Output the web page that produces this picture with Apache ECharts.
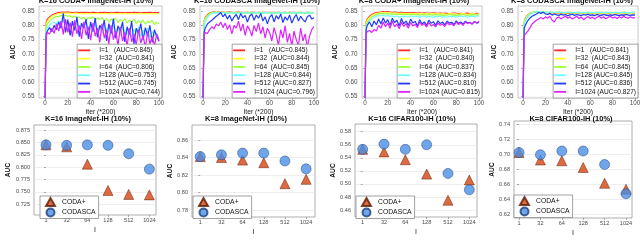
<!DOCTYPE html>
<html><head><meta charset="utf-8">
<script src="https://cdn.jsdelivr.net/npm/echarts@6/dist/echarts.min.js"></script>
<style>html,body{margin:0;padding:0;background:#fff}#c{width:640px;height:241px}</style>
</head><body><div id="c"></div>
<script>
// ---------------- DATA ----------------
const iters = [0,1,2,4,6,8,10,12,14,16,18,20,22,24,26,28,30,32,34,36,38,40,42,44,46,48,50,52,54,56,58,60,62,64,66,68,70,72,74,76,78,80,82,84,86,88,90,92,94,96,98,100];
const iterTicks = [0,20,40,60,80,100];
const intervalLabels = ['1','32','64','128','512','1024'];

// K=16 CODA+ ImageNet-IH
const k16coda_1 = [0.545,0.812,
 0.822,0.830,0.836,0.840,0.843,0.845,0.846,0.847,0.846,0.847,
 0.846,0.845,0.846,0.846,0.845,0.846,0.845,0.846,0.845,0.845,
 0.846,0.845,0.844,0.845,0.845,0.846,0.845,0.845,0.844,0.845,
 0.845,0.846,0.845,0.845,0.844,0.845,0.845,0.845,0.846,0.845,
 0.845,0.844,0.845,0.845,0.845,0.846,0.845,0.845,0.845,0.845];
const k16coda_32 = [0.545,0.805,
 0.815,0.825,0.832,0.836,0.839,0.841,0.842,0.843,0.842,0.843,
 0.842,0.841,0.843,0.842,0.841,0.842,0.840,0.842,0.841,0.842,
 0.841,0.840,0.842,0.841,0.840,0.842,0.841,0.840,0.841,0.842,
 0.840,0.841,0.842,0.840,0.841,0.841,0.840,0.842,0.841,0.840,
 0.841,0.842,0.840,0.841,0.841,0.840,0.842,0.841,0.840,0.841];
const k16coda_64 = [0.545,0.795,
 0.805,0.815,0.822,0.828,0.832,0.830,0.835,0.833,0.836,0.831,
 0.834,0.828,0.833,0.826,0.830,0.822,0.829,0.818,0.827,0.824,
 0.830,0.819,0.826,0.821,0.828,0.815,0.824,0.812,0.822,0.818,
 0.825,0.810,0.820,0.815,0.823,0.808,0.818,0.812,0.821,0.806,
 0.816,0.809,0.819,0.804,0.814,0.810,0.817,0.803,0.811,0.806];
const k16coda_128 = [0.545,0.780,
 0.790,0.800,0.808,0.812,0.805,0.815,0.808,0.818,0.802,0.812,
 0.796,0.810,0.790,0.806,0.785,0.803,0.792,0.808,0.780,0.800,
 0.788,0.806,0.778,0.798,0.770,0.802,0.784,0.795,0.766,0.800,
 0.775,0.792,0.762,0.797,0.780,0.768,0.790,0.758,0.786,0.772,
 0.795,0.760,0.783,0.766,0.790,0.756,0.778,0.764,0.772,0.753];
const k16coda_512 = [0.545,0.770,
 0.780,0.792,0.778,0.800,0.785,0.812,0.790,0.842,0.775,0.820,
 0.765,0.815,0.782,0.830,0.760,0.808,0.790,0.822,0.752,0.812,
 0.778,0.826,0.758,0.800,0.785,0.818,0.745,0.806,0.772,0.824,
 0.755,0.798,0.780,0.812,0.742,0.795,0.768,0.815,0.735,0.790,
 0.770,0.806,0.748,0.792,0.762,0.800,0.740,0.785,0.760,0.745];
const k16coda_1024 = [0.545,0.760,
 0.775,0.770,0.790,0.772,0.805,0.780,0.815,0.768,0.822,0.775,
 0.810,0.760,0.818,0.770,0.800,0.752,0.812,0.765,0.795,0.748,
 0.808,0.762,0.790,0.740,0.805,0.755,0.785,0.735,0.800,0.750,
 0.780,0.728,0.795,0.745,0.775,0.725,0.790,0.742,0.770,0.730,
 0.785,0.738,0.765,0.722,0.778,0.735,0.760,0.728,0.770,0.744];
const aucK16Coda = [0.845,0.841,0.806,0.753,0.745,0.744];

// K=16 CODASCA ImageNet-IH
const k16sca_1 = [0.545,0.815,
 0.828,0.838,0.843,0.846,0.847,0.846,0.847,0.846,0.847,0.846,
 0.846,0.847,0.846,0.845,0.846,0.847,0.846,0.845,0.846,0.846,
 0.845,0.846,0.846,0.845,0.846,0.845,0.846,0.846,0.845,0.846,
 0.845,0.846,0.845,0.846,0.845,0.845,0.846,0.845,0.846,0.845,
 0.846,0.845,0.845,0.846,0.845,0.845,0.846,0.845,0.845,0.845];
const k16sca_32 = [0.545,0.812,
 0.825,0.835,0.841,0.844,0.845,0.846,0.845,0.846,0.845,0.846,
 0.845,0.844,0.845,0.846,0.844,0.845,0.845,0.844,0.845,0.846,
 0.844,0.845,0.844,0.845,0.845,0.844,0.845,0.844,0.845,0.845,
 0.844,0.845,0.844,0.845,0.844,0.845,0.845,0.844,0.845,0.844,
 0.845,0.844,0.845,0.844,0.845,0.845,0.844,0.845,0.844,0.844];
const k16sca_64 = [0.545,0.808,
 0.822,0.833,0.840,0.844,0.846,0.845,0.847,0.844,0.846,0.845,
 0.843,0.846,0.844,0.845,0.843,0.846,0.844,0.845,0.843,0.845,
 0.846,0.844,0.845,0.843,0.846,0.844,0.845,0.843,0.846,0.844,
 0.845,0.843,0.845,0.846,0.844,0.845,0.843,0.845,0.846,0.844,
 0.845,0.843,0.846,0.844,0.845,0.843,0.845,0.846,0.844,0.845];
const k16sca_128 = [0.545,0.800,
 0.815,0.828,0.836,0.841,0.844,0.843,0.845,0.842,0.845,0.843,
 0.844,0.842,0.845,0.843,0.844,0.841,0.844,0.843,0.845,0.842,
 0.844,0.843,0.842,0.845,0.843,0.844,0.842,0.845,0.843,0.844,
 0.842,0.844,0.843,0.845,0.842,0.844,0.843,0.844,0.842,0.845,
 0.843,0.844,0.842,0.844,0.843,0.845,0.842,0.844,0.843,0.844];
const k16sca_512 = [0.545,0.775,
 0.790,0.805,0.812,0.818,0.825,0.832,0.838,0.845,0.830,0.840,
 0.822,0.836,0.815,0.830,0.838,0.820,0.842,0.826,0.835,0.812,
 0.832,0.840,0.818,0.836,0.825,0.842,0.815,0.830,0.805,0.828,
 0.838,0.812,0.834,0.822,0.840,0.810,0.830,0.818,0.836,0.808,
 0.826,0.838,0.815,0.832,0.820,0.812,0.830,0.836,0.822,0.827];
const k16sca_1024 = [0.545,0.765,
 0.775,0.772,0.785,0.795,0.788,0.805,0.798,0.812,0.792,0.808,
 0.785,0.802,0.770,0.800,0.790,0.815,0.780,0.805,0.765,0.798,
 0.785,0.762,0.800,0.778,0.808,0.770,0.795,0.755,0.790,0.775,
 0.745,0.792,0.765,0.730,0.785,0.755,0.798,0.740,0.772,0.725,
 0.780,0.750,0.728,0.790,0.745,0.770,0.722,0.762,0.785,0.796];
const aucK16Sca = [0.845,0.844,0.845,0.844,0.827,0.796];

// K=8 CODA+ ImageNet-IH
const k8coda_1 = [0.545,0.812,
 0.822,0.832,0.838,0.842,0.845,0.846,0.847,0.848,0.847,0.848,
 0.847,0.846,0.847,0.846,0.845,0.846,0.845,0.844,0.845,0.844,
 0.845,0.844,0.843,0.844,0.843,0.844,0.843,0.842,0.843,0.844,
 0.843,0.842,0.843,0.842,0.843,0.842,0.841,0.842,0.843,0.842,
 0.841,0.842,0.841,0.842,0.843,0.841,0.842,0.841,0.842,0.841];
const k8coda_32 = [0.545,0.808,
 0.818,0.828,0.835,0.839,0.842,0.843,0.844,0.845,0.844,0.845,
 0.844,0.843,0.844,0.843,0.842,0.843,0.842,0.841,0.842,0.841,
 0.842,0.841,0.840,0.841,0.842,0.840,0.841,0.840,0.841,0.842,
 0.840,0.841,0.840,0.841,0.840,0.839,0.841,0.840,0.841,0.840,
 0.839,0.840,0.841,0.840,0.839,0.840,0.841,0.840,0.839,0.840];
const k8coda_64 = [0.545,0.800,
 0.812,0.822,0.830,0.834,0.838,0.840,0.841,0.842,0.840,0.841,
 0.839,0.840,0.838,0.840,0.838,0.839,0.837,0.839,0.838,0.837,
 0.839,0.837,0.838,0.836,0.838,0.837,0.836,0.838,0.837,0.836,
 0.838,0.836,0.837,0.835,0.837,0.836,0.838,0.836,0.837,0.835,
 0.837,0.836,0.838,0.836,0.835,0.837,0.836,0.838,0.836,0.837];
const k8coda_128 = [0.545,0.790,
 0.802,0.815,0.822,0.828,0.832,0.835,0.833,0.836,0.832,0.835,
 0.831,0.834,0.830,0.833,0.829,0.832,0.830,0.833,0.829,0.831,
 0.833,0.830,0.832,0.828,0.831,0.833,0.829,0.832,0.830,0.828,
 0.832,0.830,0.833,0.829,0.831,0.828,0.832,0.830,0.833,0.829,
 0.831,0.833,0.830,0.832,0.829,0.831,0.833,0.830,0.832,0.834];
const k8coda_512 = [0.545,0.785,
 0.800,0.812,0.795,0.815,0.802,0.822,0.805,0.826,0.808,0.820,
 0.800,0.825,0.810,0.818,0.798,0.824,0.806,0.815,0.800,0.822,
 0.808,0.814,0.798,0.820,0.805,0.812,0.800,0.818,0.807,0.813,
 0.800,0.816,0.806,0.812,0.802,0.815,0.808,0.811,0.803,0.816,
 0.807,0.812,0.804,0.815,0.808,0.811,0.805,0.814,0.808,0.810];
const k8coda_1024 = [0.545,0.770,
 0.778,0.782,0.775,0.785,0.780,0.800,0.790,0.812,0.795,0.808,
 0.790,0.815,0.795,0.805,0.788,0.812,0.796,0.806,0.790,0.810,
 0.798,0.804,0.792,0.812,0.800,0.806,0.794,0.810,0.798,0.803,
 0.795,0.808,0.800,0.805,0.796,0.810,0.802,0.806,0.798,0.812,
 0.803,0.808,0.800,0.812,0.806,0.810,0.804,0.813,0.808,0.815];
const aucK8Coda = [0.841,0.840,0.837,0.834,0.810,0.815];

// K=8 CODASCA ImageNet-IH
const k8sca_1 = [0.545,0.810,
 0.825,0.836,0.842,0.845,0.846,0.847,0.846,0.845,0.846,0.845,
 0.844,0.845,0.844,0.843,0.844,0.843,0.842,0.843,0.842,0.843,
 0.842,0.841,0.842,0.843,0.842,0.841,0.842,0.841,0.842,0.841,
 0.842,0.841,0.840,0.841,0.842,0.841,0.840,0.841,0.842,0.841,
 0.840,0.841,0.842,0.841,0.840,0.841,0.842,0.841,0.841,0.841];
const k8sca_32 = [0.545,0.808,
 0.822,0.834,0.841,0.845,0.847,0.848,0.847,0.846,0.847,0.846,
 0.845,0.846,0.845,0.844,0.845,0.844,0.845,0.844,0.843,0.844,
 0.845,0.844,0.843,0.844,0.843,0.844,0.843,0.842,0.843,0.844,
 0.843,0.842,0.843,0.844,0.843,0.842,0.843,0.844,0.843,0.842,
 0.843,0.844,0.843,0.842,0.843,0.844,0.843,0.842,0.843,0.843];
const k8sca_64 = [0.545,0.805,
 0.820,0.832,0.840,0.845,0.848,0.849,0.848,0.847,0.848,0.847,
 0.846,0.847,0.846,0.845,0.846,0.847,0.846,0.845,0.846,0.845,
 0.846,0.845,0.844,0.845,0.846,0.845,0.844,0.845,0.846,0.845,
 0.844,0.845,0.846,0.845,0.844,0.845,0.846,0.845,0.844,0.845,
 0.846,0.845,0.844,0.845,0.846,0.845,0.844,0.845,0.846,0.845];
const k8sca_128 = [0.545,0.800,
 0.815,0.828,0.837,0.842,0.846,0.848,0.847,0.848,0.846,0.847,
 0.845,0.846,0.847,0.845,0.846,0.845,0.846,0.844,0.845,0.846,
 0.845,0.844,0.845,0.846,0.844,0.845,0.846,0.845,0.844,0.845,
 0.846,0.845,0.844,0.845,0.846,0.845,0.844,0.846,0.845,0.844,
 0.845,0.846,0.845,0.844,0.846,0.845,0.844,0.845,0.846,0.845];
const k8sca_512 = [0.545,0.790,
 0.800,0.815,0.825,0.832,0.836,0.840,0.845,0.842,0.846,0.840,
 0.838,0.842,0.836,0.840,0.837,0.835,0.839,0.836,0.838,0.834,
 0.837,0.839,0.835,0.838,0.836,0.834,0.838,0.836,0.839,0.835,
 0.837,0.834,0.838,0.836,0.835,0.838,0.836,0.834,0.837,0.835,
 0.838,0.836,0.834,0.837,0.835,0.838,0.836,0.835,0.837,0.836];
const k8sca_1024 = [0.545,0.765,
 0.772,0.778,0.790,0.805,0.812,0.818,0.822,0.828,0.822,0.830,
 0.825,0.832,0.818,0.812,0.826,0.830,0.822,0.828,0.833,0.825,
 0.830,0.822,0.827,0.832,0.824,0.829,0.820,0.826,0.831,0.824,
 0.829,0.822,0.828,0.832,0.825,0.830,0.823,0.828,0.832,0.826,
 0.829,0.824,0.830,0.826,0.832,0.827,0.825,0.830,0.826,0.827];
const aucK8Sca = [0.841,0.843,0.845,0.845,0.836,0.827];

// Bottom row: final AUC per communication interval I
const codaK16Img    = [0.845,0.841,0.806,0.753,0.745,0.744];
const codascaK16Img = [0.845,0.844,0.845,0.844,0.827,0.796];
const codaK8Img     = [0.841,0.840,0.837,0.834,0.810,0.815];
const codascaK8Img  = [0.841,0.843,0.845,0.845,0.836,0.827];
const codaK16Cif    = [0.553,0.549,0.537,0.515,0.475,0.506];
const codascaK16Cif = [0.553,0.561,0.553,0.560,0.516,0.491];
const codaK8Cif     = [0.702,0.692,0.691,0.682,0.661,0.653];
const codascaK8Cif  = [0.702,0.699,0.704,0.704,0.686,0.647];

const topYTicks = [0.55,0.60,0.65,0.70,0.75,0.80,0.85];
const b1Ticks = [0.725,0.750,0.775,0.800,0.825,0.850,0.875];
const b2Ticks = [0.78,0.80,0.82,0.84,0.86];
const b3Ticks = [0.46,0.48,0.50,0.52,0.54,0.56,0.58];
const b4Ticks = [0.62,0.64,0.66,0.68,0.70,0.72,0.74];

// ---------------- LAYOUT / STYLE ----------------
const W = 640, H = 241;
const FONT = '"Liberation Sans", Arial, sans-serif';
const lineColors = ['#ff2a2a','#ffff3a','#9cff3a','#70ffff','#1f3dff','#dd22ff'];

const topPanels = [
  {title:'K=16 CODA+ ImageNet-IH (10%)', series:[k16coda_1,k16coda_32,k16coda_64,k16coda_128,k16coda_512,k16coda_1024], auc:aucK16Coda,
   l:39,t:6,r:162,b:98,xmin:-5.3,xmax:102.6,ng:22,tc:96},
  {title:'K=16 CODASCA ImageNet-IH (10%)', series:[k16sca_1,k16sca_32,k16sca_64,k16sca_128,k16sca_512,k16sca_1024], auc:aucK16Sca,
   l:200,t:6,r:317,b:98,xmin:-2.7,xmax:102.7,ng:22,tc:257},
  {title:'K=8 CODA+ ImageNet-IH (10%)', series:[k8coda_1,k8coda_32,k8coda_64,k8coda_128,k8coda_512,k8coda_1024], auc:aucK8Coda,
   l:362,t:6,r:482,b:98,xmin:-2.6,xmax:102.6,ng:23,tc:414},
  {title:'K=8 CODASCA ImageNet-IH (10%)', series:[k8sca_1,k8sca_32,k8sca_64,k8sca_128,k8sca_512,k8sca_1024], auc:aucK8Sca,
   l:518,t:6,r:638,b:98,xmin:-4.5,xmax:102.7,ng:18,tc:572}
];
const padMap = {'1':'   ','32':'  ','64':'  ','128':' ','512':' ','1024':' '};

const botPanels = [
  {title:'K=16 ImageNet-IH (10%)', coda:codaK16Img, sca:codascaK16Img, ticks:b1Ticks, dec:3,
   l:34,t:125,r:156,b:215,ymin:0.7034,ymax:0.8851,xmin:-0.58,xmax:5.32,ng:16,tc:88,lgL:40,lgT:196},
  {title:'K=8 ImageNet-IH (10%)', coda:codaK8Img, sca:codascaK8Img, ticks:b2Ticks, dec:2,
   l:192,t:125,r:315,b:217,ymin:0.772,ymax:0.8771,xmin:-0.39,xmax:5.42,ng:17,tc:246,lgL:193,lgT:196},
  {title:'K=16 CIFAR100-IH (10%)', coda:codaK16Cif, sca:codascaK16Cif, ticks:b3Ticks, dec:2,
   l:355,t:124,r:477,b:217,ymin:0.4493,ymax:0.5918,xmin:-0.36,xmax:5.36,ng:17,tc:412,lgL:356,lgT:196},
  {title:'K=8 CIFAR100-IH (10%)', coda:codaK8Cif, sca:codascaK8Cif, ticks:b4Ticks, dec:2,
   l:514,t:121,r:632,b:218,ymin:0.6147,ymax:0.744,xmin:-0.235,xmax:5.28,ng:13,tc:571,lgL:514,lgT:195}
];

const grids=[], xAxes=[], yAxes=[], series=[], legends=[], titles=[];
const tickLab = {fontSize:6.3, color:'#4d4d4d', fontFamily:FONT};

topPanels.forEach((p,k)=>{
  grids.push({left:p.l, top:p.t, width:p.r-p.l, height:p.b-p.t, show:true, borderColor:'#b8b8b8', borderWidth:0.8,
    backgroundColor:'#fff', containLabel:false, outerBoundsMode:'none'});
  xAxes.push({type:'value', gridIndex:k, min:p.xmin, max:p.xmax,
    name:'Iter (*200)', nameLocation:'middle', nameGap:10.5, nameTextStyle:{fontSize:6.8, color:'#222', fontFamily:FONT},
    axisLine:{show:false}, axisTick:{show:true, length:2, customValues:iterTicks, lineStyle:{color:'#777', width:0.6}},
    axisLabel:Object.assign({margin:2.5, customValues:iterTicks}, tickLab), splitLine:{show:false}});
  yAxes.push({type:'value', gridIndex:k, min:0.5447, max:0.868,
    name:'AUC', nameLocation:'middle', nameGap:p.ng, nameRotate:90,
    nameTextStyle:{fontSize:6.6, fontWeight:'bold', color:'#111', fontFamily:FONT},
    axisLine:{show:false}, axisTick:{show:true, length:2, customValues:topYTicks, lineStyle:{color:'#777', width:0.6}},
    axisLabel:Object.assign({margin:4.5, customValues:topYTicks, formatter:v=>v.toFixed(2)}, tickLab),
    splitLine:{show:true, lineStyle:{color:'#f0f0f0', width:0.6}}});
  const names=[];
  p.series.forEach((arr,j)=>{
    const I = intervalLabels[j];
    const nm = 'I=' + I + padMap[I] + '(AUC=' + p.auc[j].toFixed(3) + ')';
    names.push(nm);
    series.push({type:'line', name:nm, xAxisIndex:k, yAxisIndex:k, showSymbol:false, symbol:'none',
      color:lineColors[j], lineStyle:{width:1.2, color:lineColors[j]}, animation:false, z:2,
      data: iters.map((x,i)=>[x, arr[i]])});
  });
  legends.push({orient:'vertical', right:W-p.r, bottom:H-98, data:names, icon:'rect', itemWidth:12, itemHeight:1.8, itemGap:0,
    padding:[2,2,2,1], backgroundColor:'#fff', borderColor:'#8a8a8a', borderWidth:0.8, selectedMode:false,
    textStyle:{fontSize:6.6, lineHeight:8.3, color:'#111', fontFamily:FONT, padding:[0,0,0,4]}});
  titles.push({text:p.title, left:p.tc, top:-3.5, textAlign:'center', padding:0,
    textStyle:{fontSize:7.5, fontWeight:'bold', color:'#111', fontFamily:FONT}});
});

botPanels.forEach((p,q)=>{
  const k = 4+q;
  grids.push({left:p.l, top:p.t, width:p.r-p.l, height:p.b-p.t, show:true, borderColor:'#9a9a9a', borderWidth:0.8,
    backgroundColor:'#fff', containLabel:false, outerBoundsMode:'none'});
  xAxes.push({type:'value', gridIndex:k, min:p.xmin, max:p.xmax,
    name:'I', nameLocation:'middle', nameGap:11.5, nameTextStyle:{fontSize:7, color:'#222', fontFamily:FONT},
    axisLine:{show:false}, axisTick:{show:true, length:2, customValues:[0,1,2,3,4,5], lineStyle:{color:'#777', width:0.6}},
    axisLabel:Object.assign({margin:2.5, customValues:[0,1,2,3,4,5], formatter:v=>intervalLabels[Math.round(v)]}, tickLab, {fontSize:5.6}),
    splitLine:{show:false}});
  yAxes.push({type:'value', gridIndex:k, min:p.ymin, max:p.ymax,
    name:'AUC', nameLocation:'middle', nameGap:p.ng, nameRotate:90,
    nameTextStyle:{fontSize:6.6, fontWeight:'bold', color:'#111', fontFamily:FONT},
    axisLine:{show:false}, axisTick:{show:true, length:2, customValues:p.ticks, lineStyle:{color:'#777', width:0.6}},
    axisLabel:Object.assign({margin:4, customValues:p.ticks, formatter:v=>v.toFixed(p.dec)}, tickLab, {fontSize:5.6}),
    splitLine:{show:true, lineStyle:{color:'#e6e6e6', width:0.7}}});
  series.push({type:'scatter', name:'CODA+', xAxisIndex:k, yAxisIndex:k, symbol:'triangle', symbolSize:10, animation:false,
    itemStyle:{color:'#d6450f', borderColor:'#5a1a04', borderWidth:0.6},
    data:p.coda.map((v,i)=>[i,v])});
  series.push({type:'scatter', name:'CODASCA', xAxisIndex:k, yAxisIndex:k, symbol:'circle', symbolSize:10, animation:false,
    itemStyle:{color:'#4a8ee6', borderColor:'#1d3f7a', borderWidth:0.6},
    data:p.sca.map((v,i)=>[i,v])});
  legends.push({orient:'vertical', left:p.lgL, top:p.lgT, data:['CODA+','CODASCA'], itemWidth:9, itemHeight:8, itemGap:0.5,
    padding:[1,3,1,5], backgroundColor:'#fff', borderColor:'#8a8a8a', borderWidth:0.8, selectedMode:false,
    textStyle:{fontSize:6.8, lineHeight:8.5, color:'#111', fontFamily:FONT, padding:[0,0,0,2]}});
  titles.push({text:p.title, left:p.tc, top:115, textAlign:'center', padding:0,
    textStyle:{fontSize:7.5, fontWeight:'bold', color:'#111', fontFamily:FONT}});
});

const chart = echarts.init(document.getElementById('c'), null, {renderer:'canvas', width:W, height:H});
chart.setOption({
  animation:false, backgroundColor:'#fff',
  textStyle:{fontFamily:FONT},
  title:titles, grid:grids, xAxis:xAxes, yAxis:yAxes, legend:legends, series:series
});
</script>
</body></html>
